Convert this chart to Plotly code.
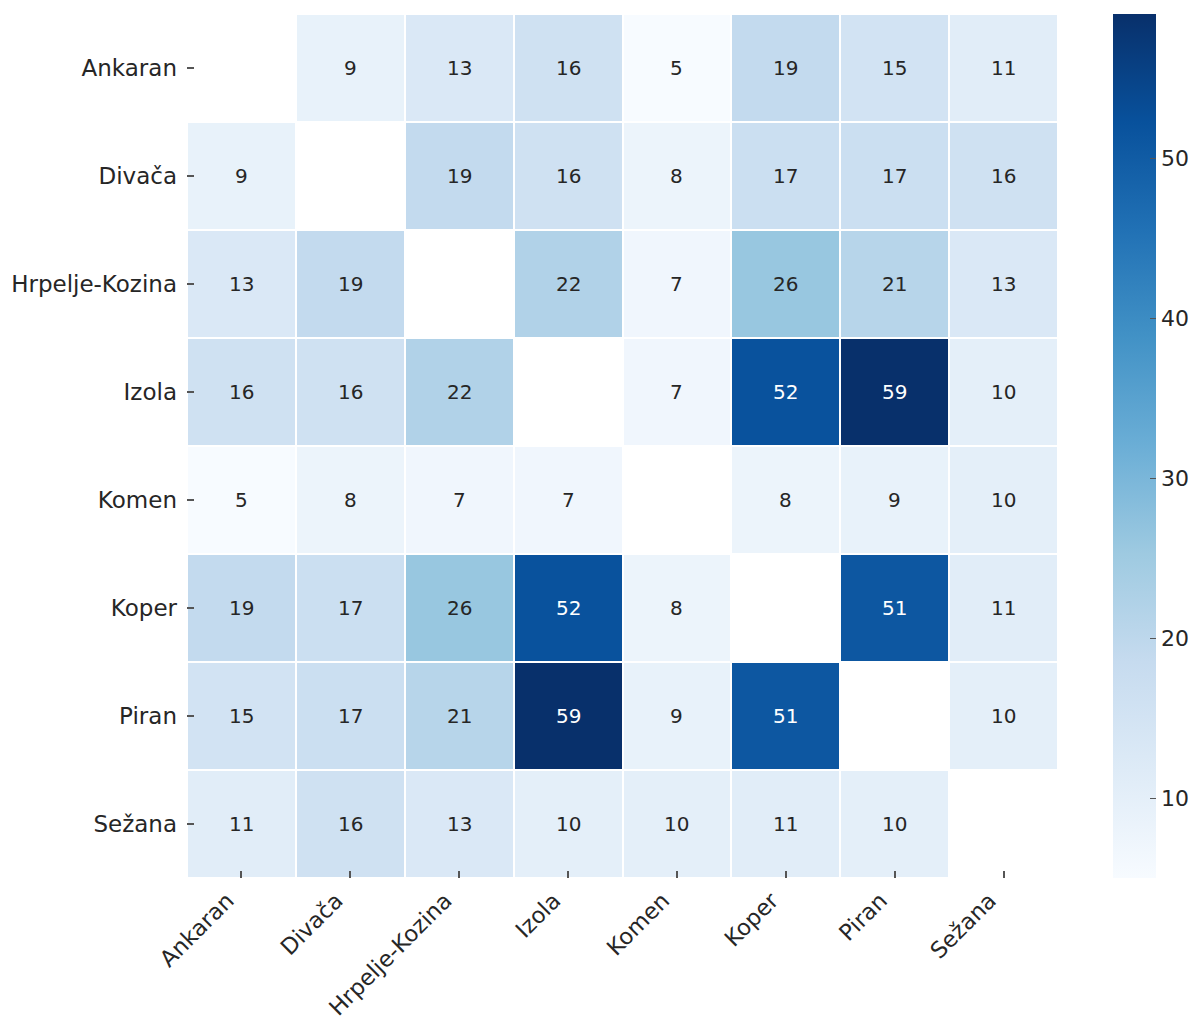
import plotly.graph_objects as go

# Municipalities shown on both axes
towns = ["Ankaran", "Divača", "Hrpelje-Kozina", "Izola", "Komen", "Koper", "Piran", "Sežana"]

# Pairwise counts (diagonal left empty)
row_ankaran = [None, 9, 13, 16, 5, 19, 15, 11]
row_divaca = [9, None, 19, 16, 8, 17, 17, 16]
row_hrpelje = [13, 19, None, 22, 7, 26, 21, 13]
row_izola = [16, 16, 22, None, 7, 52, 59, 10]
row_komen = [5, 8, 7, 7, None, 8, 9, 10]
row_koper = [19, 17, 26, 52, 8, None, 51, 11]
row_piran = [15, 17, 21, 59, 9, 51, None, 10]
row_sezana = [11, 16, 13, 10, 10, 11, 10, None]

colorbar_ticks = [10, 20, 30, 40, 50]

z = [row_ankaran, row_divaca, row_hrpelje, row_izola,
     row_komen, row_koper, row_piran, row_sezana]

# ColorBrewer "Blues" (same stops as matplotlib's Blues)
blues_hex = ["#f7fbff", "#deebf7", "#c6dbef", "#9ecae1", "#6baed6",
             "#4292c6", "#2171b5", "#08519c", "#08306b"]
colorscale = [[i / (len(blues_hex) - 1), c] for i, c in enumerate(blues_hex)]

vals = [v for row in z for v in row if v is not None]
zmin, zmax = min(vals), max(vals)


def hex_to_rgb(h):
    h = h.lstrip("#")
    return [int(h[i:i + 2], 16) / 255 for i in (0, 2, 4)]


def color_at(v):
    t = (v - zmin) / (zmax - zmin)
    pos = t * (len(blues_hex) - 1)
    i = min(int(pos), len(blues_hex) - 2)
    f = pos - i
    a, b = hex_to_rgb(blues_hex[i]), hex_to_rgb(blues_hex[i + 1])
    return [a[k] + (b[k] - a[k]) * f for k in range(3)]


def luminance(rgb):
    lin = [c / 12.92 if c <= 0.03928 else ((c + 0.055) / 1.055) ** 2.4 for c in rgb]
    return 0.2126 * lin[0] + 0.7152 * lin[1] + 0.0722 * lin[2]


font_family = "DejaVu Sans, Verdana, sans-serif"
text_dark = "#262626"
tick_gray = "#555555"

fig = go.Figure(
    go.Heatmap(
        z=z,
        x=towns,
        y=towns,
        zmin=zmin,
        zmax=zmax,
        colorscale=colorscale,
        xgap=2,
        ygap=2,
        hoverongaps=False,
        colorbar=dict(
            thickness=43,
            len=1,
            lenmode="fraction",
            y=0.5,
            yanchor="middle",
            x=1.0631,
            xanchor="left",
            xpad=0,
            ypad=0,
            outlinewidth=0,
            tickvals=colorbar_ticks,
            ticks="inside",
            ticklen=6,
            tickcolor=tick_gray,
            tickwidth=1.2,
            tickfont=dict(family=font_family, size=22, color=text_dark),
        ),
    )
)

# Cell value labels, white on dark cells
annotations = []
for r, row in enumerate(z):
    for c, v in enumerate(row):
        if v is None:
            continue
        col = "#ffffff" if luminance(color_at(v)) < 0.408 else text_dark
        annotations.append(dict(
            x=towns[c], y=towns[r], text=str(v), showarrow=False,
            font=dict(family=font_family, size=20, color=col),
        ))

fig.update_layout(
    width=1196,
    height=1019,
    margin=dict(l=187, r=138, t=14, b=141, autoexpand=False),
    paper_bgcolor="white",
    plot_bgcolor="white",
    annotations=annotations,
    font=dict(family=font_family, color=text_dark),
    xaxis=dict(
        type="category",
        automargin=False,
        tickangle=-45,
        ticks="inside",
        ticklen=7,
        tickwidth=1.5,
        tickcolor=tick_gray,
        ticklabelstandoff=4,
        ticklabelshift=-14,
        tickfont=dict(family=font_family, size=22.5, color=text_dark),
        showgrid=False,
        zeroline=False,
        showline=False,
    ),
    yaxis=dict(
        type="category",
        automargin=False,
        autorange="reversed",
        ticks="inside",
        ticklen=7,
        tickwidth=1.5,
        tickcolor=tick_gray,
        ticklabelstandoff=9,
        tickfont=dict(family=font_family, size=23, color=text_dark),
        showgrid=False,
        zeroline=False,
        showline=False,
    ),
)

fig.write_html("out.html")
